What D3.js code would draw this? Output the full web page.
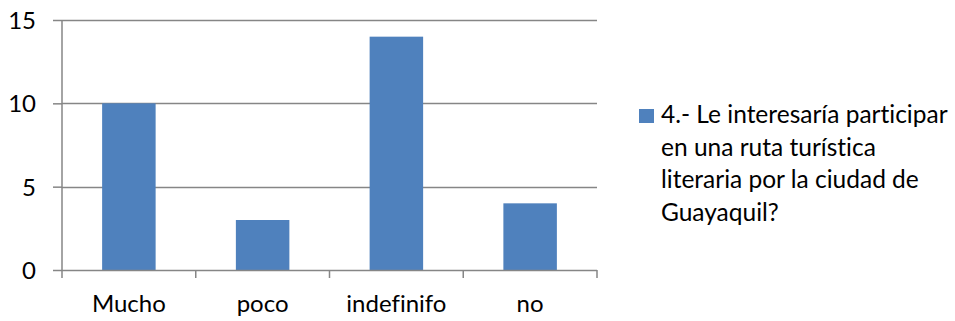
<!DOCTYPE html>
<html>
<head>
<meta charset="utf-8">
<script src="https://cdn.jsdelivr.net/npm/d3@7"></script>
<style>
  html, body { margin: 0; padding: 0; background: #fff; }
  svg { display: block; }
  text { font-family: Lato, "Open Sans", sans-serif; fill: #000; font-variant-ligatures: none; }
</style>
</head>
<body>
<svg id="chart" width="955" height="321"></svg>
<script>
const categories = ["Mucho", "poco", "indefinifo", "no"];
const values = [10, 3, 14, 4];
const yTicks = [0, 5, 10, 15];
const seriesName = "4.- Le interesaría participar en una ruta turística literaria por la ciudad de Guayaquil?";
const legendLines = ["4.- Le interesaría participar", "en una ruta turística", "literaria por la ciudad de", "Guayaquil?"];

(function () {
const svg = d3.select("#chart");
const mLeft = 62, mRight = 597, mTop = 20, mBottom = 270;
const barColor = "#4F81BD", gridColor = "#868686";
const fs = "24px";

const x = d3.scaleBand().domain(categories).range([mLeft, mRight]).paddingInner(0.6).paddingOuter(0.3);
const xOuter = d3.scaleBand().domain(categories).range([mLeft, mRight]);
const y = d3.scaleLinear().domain([0, 15]).range([mBottom, mTop]);

// gridlines
svg.append("g").selectAll("line").data(yTicks.filter(d => d > 0)).join("line")
  .attr("x1", mLeft).attr("x2", mRight)
  .attr("y1", d => Math.round(y(d)) + 0.5).attr("y2", d => Math.round(y(d)) + 0.5)
  .attr("stroke", gridColor).attr("stroke-width", 1.5);

// bars
svg.append("g").selectAll("rect").data(categories).join("rect")
  .attr("x", d => x(d)).attr("width", x.bandwidth())
  .attr("y", (d, i) => y(values[i])).attr("height", (d, i) => y(0) - y(values[i]))
  .attr("fill", barColor);

// y axis
const yAxis = d3.axisLeft(y).tickValues(yTicks).tickSize(9).tickPadding(17);
const gy = svg.append("g").attr("transform", `translate(${mLeft},0)`).call(yAxis);
gy.select(".domain").attr("stroke", gridColor).attr("stroke-width", 1.5).attr("d", `M0,${mTop}V${mBottom}`);
gy.selectAll(".tick line").attr("stroke", gridColor).attr("stroke-width", 1.5);
gy.selectAll(".tick text").style("font-size", fs).style("font-family", "Lato, sans-serif").attr("fill", "#000").attr("dy", "0.36em");

// x axis
const gx = svg.append("g").attr("transform", `translate(0,${mBottom})`);
gx.append("line").attr("x1", mLeft).attr("x2", mRight).attr("y1", 0.5).attr("y2", 0.5)
  .attr("stroke", gridColor).attr("stroke-width", 1.5);
const bounds = categories.map(c => xOuter(c)).concat([mRight]);
gx.selectAll("line.tk").data(bounds).join("line").attr("class", "tk")
  .attr("x1", d => d).attr("x2", d => d).attr("y1", 0).attr("y2", 8)
  .attr("stroke", gridColor).attr("stroke-width", 1.5);
gx.selectAll("text").data(categories).join("text")
  .attr("x", d => xOuter(d) + xOuter.bandwidth() / 2).attr("y", 42)
  .attr("text-anchor", "middle").style("font-size", fs).text(d => d);

// legend
const lg = svg.append("g");
lg.append("rect").attr("x", 639).attr("y", 109).attr("width", 15).attr("height", 14).attr("fill", barColor);
lg.selectAll("text").data(legendLines).join("text")
  .attr("x", 661).attr("y", (d, i) => 123 + i * 32.5)
  .style("font-size", "24.5px").text(d => d);
})();
</script>
</body>
</html>
